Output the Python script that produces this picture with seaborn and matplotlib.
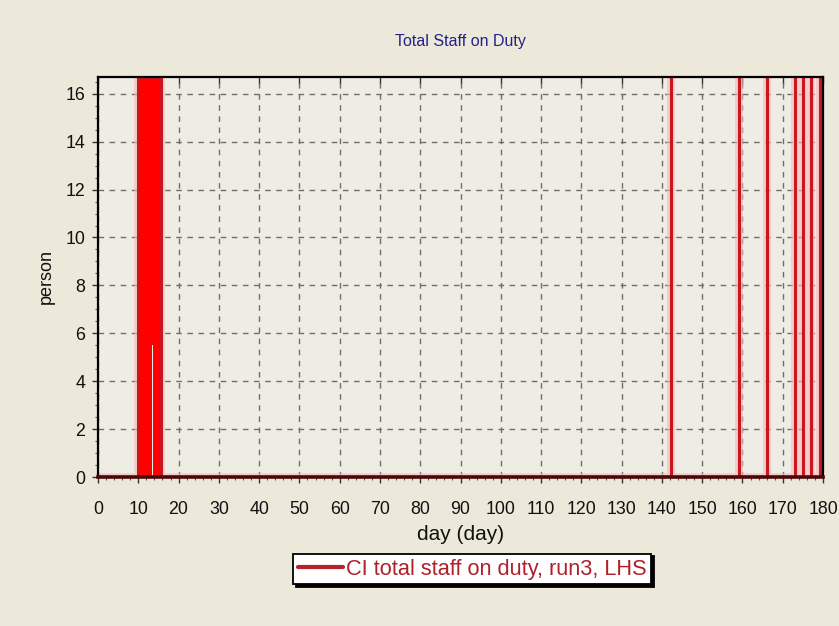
import matplotlib
matplotlib.use("Agg")
import matplotlib.pyplot as plt
from matplotlib.ticker import MultipleLocator
import seaborn as sns

# ---- data -------------------------------------------------------------
# first duty episode: trace oscillates between a low and a high envelope
episode_day = [10.0, 13.35, 13.75, 15.6]
episode_low = [0.0, 5.5, 0.0, 0.0]
episode_high = [16.7, 16.7, 16.7, 16.7]

# later single-day call-outs (day, staff on duty)
spike_days = [142.2, 159.2, 166.0, 173.1, 175.1, 177.0, 179.3]
spike_staff = [16.7, 16.7, 16.7, 16.7, 16.7, 16.7, 16.7]

day_start, day_end = 0, 180
x_ticks = list(range(0, 181, 10))
y_ticks = list(range(0, 17, 2))

series_label = "CI total staff on duty, run3, LHS"

# ---- build the step trace ----------------------------------------------
trace_day = [day_start, episode_day[0], episode_day[0], episode_day[-1], episode_day[-1]]
trace_staff = [0.0, 0.0, episode_high[0], episode_high[-1], 0.0]
for d, v in zip(spike_days, spike_staff):
    trace_day += [d, d, d]
    trace_staff += [0.0, v, 0.0]
trace_day.append(day_end)
trace_staff.append(0.0)

# ---- style ---------------------------------------------------------------
sns.set_theme(style="ticks")
plt.rcParams["font.family"] = ["Liberation Sans", "DejaVu Sans"]

bg = "#ECE9DA"
red_line = "#C8171E"
red_fill = "#FF0000"

fig = plt.figure(figsize=(8.39, 6.26), dpi=100, facecolor=bg)
ax = fig.add_axes([98 / 839, 149 / 626, 725 / 839, 400 / 626])
ax.set_facecolor("#EEECE3")

# soft halo around the trace
sns.lineplot(x=trace_day, y=trace_staff, estimator=None, sort=False,
             color="#F6B9B9", lw=5.5, alpha=0.6, ax=ax, legend=False, zorder=2)
ax.fill_between(episode_day, episode_low, episode_high, step="post",
                color=red_fill, lw=0, zorder=3)
sns.lineplot(x=trace_day, y=trace_staff, estimator=None, sort=False,
             color=red_line, lw=2.2, ax=ax, legend=False, zorder=4)

ax.set_xlim(day_start, day_end)
ax.set_ylim(0, max(episode_high + spike_staff))

ax.set_xticks(x_ticks)
ax.set_yticks(y_ticks)
ax.xaxis.set_minor_locator(MultipleLocator(2))
ax.yaxis.set_minor_locator(MultipleLocator(0.5))
ax.grid(True, which="major", color="#6E6E6E", ls=(0, (4, 4)), lw=1.0, zorder=1)
ax.set_axisbelow(True)

for s in ax.spines.values():
    s.set_color("black")
    s.set_linewidth(1.6)
    s.set_zorder(5)
ax.spines["bottom"].set_color("#4A0808")
ax.spines["bottom"].set_linewidth(2.6)

ax.tick_params(which="major", direction="out", length=4, width=1, color="#333333",
               labelsize=12.8, labelcolor="#111111")
ax.tick_params(axis="x", which="major", pad=13)
ax.tick_params(axis="y", which="major", pad=5)
ax.tick_params(which="minor", direction="out", length=2.5, width=0.8, color="#555555")

top = ax.secondary_xaxis("top")
top.set_xticks(x_ticks)
top.tick_params(direction="in", length=5, width=1, color="#333333", labeltop=False)
top.spines["top"].set_visible(False)

ax.set_xlabel("day (day)", fontsize=15, color="#111111", labelpad=5)
ax.set_ylabel("person", fontsize=13, color="#111111", labelpad=8)
ax.set_title("Total Staff on Duty", fontsize=11.5, color="#22228A", pad=22)

handle = plt.Line2D([], [], color="#B5222C", lw=3)
leg = fig.legend([handle], [series_label], loc="center",
                 bbox_to_anchor=(472 / 839, 1 - 569 / 626),
                 frameon=True, fancybox=False, framealpha=1,
                 edgecolor="black", facecolor="white",
                 shadow={"color": "black", "alpha": 1},
                 handlelength=2.1, handletextpad=0.1, borderpad=0.22,
                 prop={"size": 15.7})
leg.get_frame().set_linewidth(1.3)
for t in leg.get_texts():
    t.set_color("#B0202A")

fig.savefig("out.png", dpi=100, facecolor=bg)
